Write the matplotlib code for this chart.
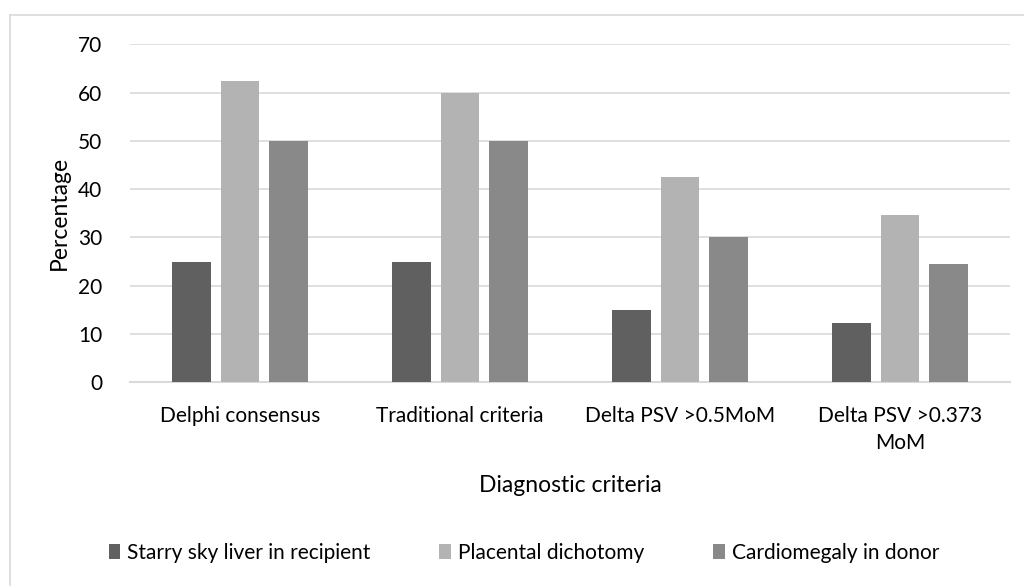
import matplotlib
matplotlib.use("Agg")
import matplotlib.pyplot as plt
import numpy as np
from matplotlib.lines import Line2D

categories = ["Delphi consensus", "Traditional criteria", "Delta PSV >0.5MoM", "Delta PSV >0.373\nMoM"]
series_names = ["Starry sky liver in recipient", "Placental dichotomy", "Cardiomegaly in donor"]
starry = [25, 25, 15, 12.2]
placental = [62.5, 60, 42.5, 34.7]
cardio = [50, 50, 30, 24.5]
colors = ["#606060", "#b3b3b3", "#898989"]
yticks = [0, 10, 20, 30, 40, 50, 60, 70]

plt.rcParams['font.family'] = ['Lato', 'DejaVu Sans']
plt.rcParams['text.color'] = '#000000'

fig = plt.figure(figsize=(10.24, 5.86), dpi=100)
ax = fig.add_axes([130/1024, 1-382.3/586, 880/1024, (382.3-44.3)/586])

x = np.arange(len(categories))
w = 0.175
step = 0.221
for i, (vals, name) in enumerate(zip([starry, placental, cardio], series_names)):
    ax.bar(x + (i-1)*step, vals, width=w, color=colors[i], label=name, zorder=3)

ax.set_xlim(-0.5, len(categories)-0.5)
ax.set_ylim(0, 70)
ax.set_yticks(yticks)
ax.set_xticks(x)
ax.set_xticklabels(categories, fontsize=15, linespacing=1.45)
ax.tick_params(axis='y', labelsize=15, length=0, pad=20, labelcolor='black')
ax.tick_params(axis='x', length=0, pad=17, labelcolor='black')
ax.grid(axis='y', color='#d9d9d9', linewidth=1.2, zorder=0)
for s in ['top', 'right', 'left']:
    ax.spines[s].set_visible(False)
ax.spines['bottom'].set_color('#d9d9d9')
ax.spines['bottom'].set_linewidth(1.5)
ax.set_ylabel("Percentage", fontsize=16.5, labelpad=6)
ax.set_xlabel("Diagnostic criteria", fontsize=16.5, labelpad=16)

fig.legend(loc='center', bbox_to_anchor=(524/1024, 1-553/586), ncol=3, frameon=False,
           fontsize=15, handlelength=0.55, handleheight=0.75, handletextpad=0.35,
           columnspacing=3.3)

# outer chart border (left and top visible)
fig.add_artist(Line2D([10/1024, 10/1024], [0, 1-15/586], transform=fig.transFigure, color='#d9d9d9', linewidth=1.2))
fig.add_artist(Line2D([10/1024, 1], [1-15/586, 1-15/586], transform=fig.transFigure, color='#d9d9d9', linewidth=1.2))

fig.savefig("out.png", dpi=100)
